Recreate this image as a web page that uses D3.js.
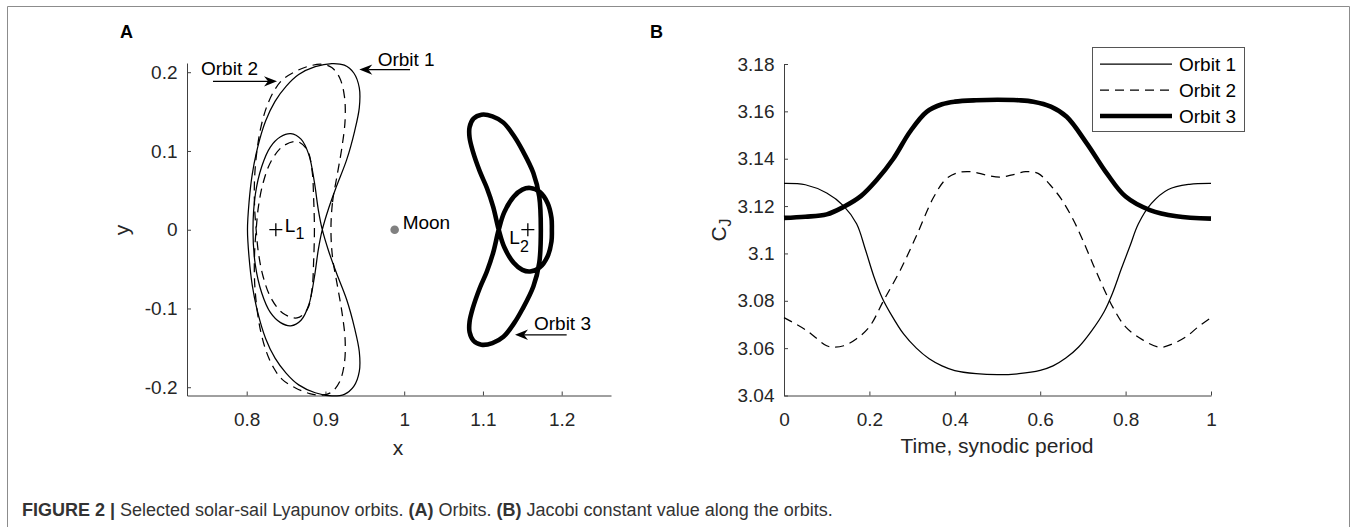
<!DOCTYPE html>
<html>
<head>
<meta charset="utf-8">
<script src="https://cdn.jsdelivr.net/npm/d3@7"></script>
<style>
  html, body { margin: 0; padding: 0; background: #fff; }
  svg text { font-family: 'Liberation Sans', Arial, Helvetica, sans-serif; }
</style>
</head>
<body>
<svg id="fig" width="1357" height="527"></svg>
<script>
// ---------------- Panel A: orbits in the synodic frame ----------------
const orbit1X = [0.896,0.904,0.914,0.927,0.937,0.943,0.943,0.936,0.924,0.908,0.887,0.866,0.850,0.836,0.824,0.814,0.807,0.803,0.801,
                 0.803,0.807,0.814,0.824,0.836,0.850,0.866,0.887,0.908,0.924,0.936,0.943,0.943,0.937,0.927,0.914,0.904,
                 0.896,0.891,0.886,0.879,0.869,0.856,0.843,0.830,0.819,0.811,0.808,0.811,0.819,0.830,0.843,0.856,0.869,0.879,0.886,0.891];
const orbit1Y = [0.000,0.027,0.055,0.089,0.125,0.155,0.180,0.199,0.209,0.211,0.207,0.197,0.182,0.163,0.138,0.105,0.070,0.035,0.000,
                 -0.035,-0.070,-0.105,-0.138,-0.163,-0.182,-0.197,-0.207,-0.211,-0.209,-0.199,-0.180,-0.155,-0.125,-0.089,-0.055,-0.027,
                 0.000,0.025,0.060,0.095,0.115,0.122,0.118,0.105,0.080,0.045,0.000,-0.045,-0.080,-0.105,-0.118,-0.122,-0.115,-0.095,-0.060,-0.025];

const orbit2X = [0.907,0.909,0.915,0.921,0.925,0.924,0.918,0.908,0.896,0.880,0.862,0.845,0.834,0.825,0.818,0.813,0.810,0.810,0.812,
                 0.815,0.821,0.831,0.846,0.864,0.877,0.883,0.885,0.886,0.885,0.883,0.877,0.864,0.846,0.831,0.821,0.815,0.812,
                 0.810,0.810,0.813,0.818,0.825,0.834,0.845,0.862,0.880,0.896,0.908,0.918,0.924,0.925,0.921,0.915,0.909];
const orbit2Y = [0.000,0.035,0.070,0.105,0.140,0.170,0.193,0.206,0.210,0.208,0.201,0.190,0.175,0.155,0.130,0.100,0.065,0.030,0.000,
                 -0.030,-0.060,-0.087,-0.106,-0.112,-0.101,-0.075,-0.040,0.000,0.040,0.075,0.101,0.112,0.106,0.087,0.060,0.030,0.000,
                 -0.030,-0.065,-0.100,-0.130,-0.155,-0.175,-0.190,-0.201,-0.208,-0.210,-0.206,-0.193,-0.170,-0.140,-0.105,-0.070,-0.035];

const orbit3X = [1.098,1.088,1.083,1.083,1.087,1.096,1.105,1.113,1.120,1.127,1.139,1.150,1.160,1.172,1.182,1.187,1.1875,
                 1.187,1.182,1.172,1.160,1.150,1.139,1.127,1.120,1.113,1.105,1.096,1.087,1.083,1.083,1.088,1.098,
                 1.112,1.126,1.140,1.150,1.164,1.1715,1.1735,1.1715,1.164,1.150,1.140,1.126,1.112];
const orbit3Y = [0.146,0.141,0.130,0.117,0.100,0.074,0.053,0.029,0.000,-0.022,-0.042,-0.051,-0.053,-0.048,-0.034,-0.015,0.000,
                 0.015,0.034,0.048,0.053,0.051,0.042,0.022,0.000,-0.029,-0.053,-0.074,-0.100,-0.117,-0.130,-0.141,-0.146,
                 -0.144,-0.136,-0.118,-0.101,-0.072,-0.042,0.000,0.042,0.072,0.101,0.118,0.136,0.144];

const moonX = 0.9879;
const libration = [{name: "L", sub: "1", x: 0.837}, {name: "L", sub: "2", x: 1.157}];

const aTicksX = [0.8, 0.9, 1, 1.1, 1.2];
const aTickLabelsX = ["0.8", "0.9", "1", "1.1", "1.2"];
const aTicksY = [-0.2, -0.1, 0, 0.1, 0.2];
const aTickLabelsY = ["-0.2", "-0.1", "0", "0.1", "0.2"];

// ---------------- Panel B: Jacobi constant over one synodic period ----------------
const orbit1Time = [0,0.05,0.10,0.14,0.17,0.19,0.21,0.23,0.25,0.28,0.31,0.34,0.37,0.40,0.45,0.50,
                    0.55,0.60,0.63,0.66,0.69,0.72,0.75,0.77,0.79,0.81,0.83,0.86,0.90,0.95,1.00];
const orbit1Jacobi = [3.1296,3.1290,3.1255,3.1200,3.1125,3.1020,3.0905,3.0812,3.0745,3.0660,3.0600,3.0555,3.0525,3.0505,3.0492,3.0488,
                      3.0492,3.0506,3.0525,3.0558,3.0605,3.0672,3.0755,3.0835,3.0935,3.1030,3.1125,3.1210,3.1270,3.1292,3.1296];

const orbit2Time = [0,0.05,0.10,0.1155,0.14,0.17,0.20,0.233,0.272,0.311,0.35,0.38,0.41,0.44,0.475,0.506,
                    0.535,0.566,0.595,0.623,0.65,0.678,0.70,0.732,0.771,0.80,0.84,0.8806,0.91,0.943,0.97,1.0];
const orbit2Jacobi = [3.0729,3.0678,3.0610,3.0604,3.0610,3.0640,3.0690,3.0800,3.0928,3.1078,3.1236,3.1315,3.1342,3.1345,3.1330,3.1322,
                      3.1332,3.1345,3.1338,3.1290,3.1228,3.1140,3.1055,3.0920,3.0770,3.0690,3.0635,3.0604,3.0618,3.0650,3.0690,3.0729];

const orbit3Time = [0,0.05,0.10,0.14,0.18,0.217,0.256,0.295,0.334,0.37,0.40,0.45,0.50,0.55,0.584,0.625,
                    0.662,0.709,0.756,0.80,0.857,0.919,1.0];
const orbit3Jacobi = [3.1150,3.1155,3.1165,3.1197,3.1242,3.1310,3.1400,3.1514,3.1598,3.1630,3.1641,3.1647,3.1649,3.1647,3.1641,3.1620,
                      3.1577,3.1465,3.1338,3.1240,3.1183,3.1157,3.1147];

const bTicksX = [0, 0.2, 0.4, 0.6, 0.8, 1];
const bTickLabelsX = ["0", "0.2", "0.4", "0.6", "0.8", "1"];
const bTicksY = [3.04, 3.06, 3.08, 3.1, 3.12, 3.14, 3.16, 3.18];
const bTickLabelsY = ["3.04", "3.06", "3.08", "3.1", "3.12", "3.14", "3.16", "3.18"];

const seriesNames = ["Orbit 1", "Orbit 2", "Orbit 3"];

// ---------------- drawing ----------------
const FONT = "'Liberation Sans', Arial, Helvetica, sans-serif";
const INK = "#000";
const AXIS = "#404040";
const TEXT_SIZE = 19;   // tick labels and in-plot text
const LABEL_SIZE = 21;  // axis titles
const svg = d3.select("#fig");

// styles per orbit: thin solid, thin dashed, thick solid
const styles = [
  {width: 1.25, dash: null},
  {width: 1.25, dash: "9,6"},
  {width: 4.6, dash: null}
];

// figure frame
svg.append("path")
  .attr("d", "M7.5,527V6.5H1349.5V527")
  .attr("fill", "none").attr("stroke", "#8c8c8c").attr("stroke-width", 1);

function drawAxes(xs, ys, xt, xl, yt, yl) {
  const gx = svg.append("g")
    .attr("transform", `translate(0,${ys.range()[0]})`)
    .call(d3.axisBottom(xs).tickValues(xt).tickFormat((d, i) => xl[i])
      .tickSizeInner(-4).tickSizeOuter(0).tickPadding(17));
  const gy = svg.append("g")
    .attr("transform", `translate(${xs.range()[0]},0)`)
    .call(d3.axisLeft(ys).tickValues(yt).tickFormat((d, i) => yl[i])
      .tickSizeInner(-4).tickSizeOuter(0).tickPadding(9.5));
  [gx, gy].forEach(g => g.attr("font-size", TEXT_SIZE).attr("font-family", FONT).attr("color", AXIS)
    .selectAll("text").attr("fill", "#262626"));
}

// ----- Panel A -----
const xA = d3.scaleLinear().domain([0.7242, 1.2626]).range([187, 611]);
const yA = d3.scaleLinear().domain([-0.2105, 0.2117]).range([395.5, 63]);
drawAxes(xA, yA, aTicksX, aTickLabelsX, aTicksY, aTickLabelsY);

const orbitLine = d3.line().x(d => xA(d[0])).y(d => yA(d[1]))
  .curve(d3.curveCatmullRomClosed.alpha(0.5));
[[orbit1X, orbit1Y], [orbit2X, orbit2Y], [orbit3X, orbit3Y]].forEach(([xs, ys], i) => {
  const pts = xs.map((x, k) => [x, ys[k]]);
  svg.append("path").attr("d", orbitLine(pts))
    .attr("fill", "none").attr("stroke", INK)
    .attr("stroke-width", styles[i].width)
    .attr("stroke-dasharray", styles[i].dash)
    .attr("stroke-linejoin", "round");
});

// Moon
svg.append("circle").attr("cx", xA(moonX)).attr("cy", yA(0)).attr("r", 4.3).attr("fill", "#808080");
svg.append("text").attr("x", xA(moonX) + 8).attr("y", yA(0) - 1)
  .attr("font-size", TEXT_SIZE).attr("fill", INK).text("Moon");

// libration points
const lOffsets = [{lx: 9, ly: 2.5, sdy: 6.6}, {lx: -18.5, ly: 14.5, sdy: 8}];
libration.forEach((p, i) => {
  const cx = xA(p.x), cy = yA(0);
  svg.append("path").attr("d", `M${cx - 6.5},${cy}H${cx + 6.5}M${cx},${cy - 6.5}V${cy + 6.5}`)
    .attr("stroke", INK).attr("stroke-width", 1.3);
  const t = svg.append("text").attr("x", cx + lOffsets[i].lx).attr("y", cy + lOffsets[i].ly)
    .attr("font-size", TEXT_SIZE).attr("fill", INK).text(p.name);
  t.append("tspan").attr("dy", lOffsets[i].sdy).attr("font-size", 16).text(p.sub);
});

// annotation arrows (positions in panel-A data units)
const notes = [
  {label: "Orbit 1", tail: [1.0074, 0.2033], tip: [0.943, 0.2033], text: [0.9663, 0.2084]},
  {label: "Orbit 2", tail: [0.7572, 0.1884], tip: [0.8385, 0.1884], text: [0.742, 0.197]},
  {label: "Orbit 3", tail: [1.2063, -0.1334], tip: [1.1407, -0.1334], text: [1.1648, -0.127]}
];
notes.forEach(n => {
  const x1 = xA(n.tail[0]), y1 = yA(n.tail[1]), x2 = xA(n.tip[0]), y2 = yA(n.tip[1]);
  const ang = Math.atan2(y2 - y1, x2 - x1);
  const L = 13, W = 5.2, notch = 9;
  const ux = Math.cos(ang), uy = Math.sin(ang);
  const px = -uy, py = ux;
  svg.append("line").attr("x1", x1).attr("y1", y1)
    .attr("x2", x2 - ux * notch).attr("y2", y2 - uy * notch)
    .attr("stroke", INK).attr("stroke-width", 1.2);
  const head = [
    [x2, y2],
    [x2 - ux * L + px * W, y2 - uy * L + py * W],
    [x2 - ux * notch, y2 - uy * notch],
    [x2 - ux * L - px * W, y2 - uy * L - py * W]
  ];
  svg.append("path").attr("d", "M" + head.map(p => p.join(",")).join("L") + "Z").attr("fill", INK);
  svg.append("text").attr("x", xA(n.text[0])).attr("y", yA(n.text[1]))
    .attr("font-size", TEXT_SIZE).attr("fill", INK).text(n.label);
});

// axis titles A
svg.append("text").attr("x", 398).attr("y", 455).attr("text-anchor", "middle")
  .attr("font-size", LABEL_SIZE).attr("fill", "#262626").text("x");
svg.append("text").attr("transform", "translate(129,230) rotate(-90)").attr("text-anchor", "middle")
  .attr("font-size", LABEL_SIZE).attr("fill", "#262626").text("y");

// ----- Panel B -----
const xB = d3.scaleLinear().domain([0, 1]).range([784, 1211]);
const yB = d3.scaleLinear().domain([3.04, 3.18]).range([395.5, 64]);
drawAxes(xB, yB, bTicksX, bTickLabelsX, bTicksY, bTickLabelsY);

const jacobiLine = d3.line().x(d => xB(d[0])).y(d => yB(d[1])).curve(d3.curveCatmullRom.alpha(0.5));
[[orbit1Time, orbit1Jacobi], [orbit2Time, orbit2Jacobi], [orbit3Time, orbit3Jacobi]].forEach(([ts, cs], i) => {
  const pts = ts.map((t, k) => [t, cs[k]]);
  svg.append("path").attr("d", jacobiLine(pts))
    .attr("fill", "none").attr("stroke", INK)
    .attr("stroke-width", styles[i].width)
    .attr("stroke-dasharray", styles[i].dash)
    .attr("stroke-linejoin", "round");
});

// legend
const lg = svg.append("g").attr("transform", "translate(1092,47)");
lg.append("rect").attr("x", 0.5).attr("y", 0.5).attr("width", 152).attr("height", 84)
  .attr("fill", "#fff").attr("stroke", "#555").attr("stroke-width", 1);
seriesNames.forEach((name, i) => {
  const yy = 17 + i * 26;
  lg.append("line").attr("x1", 8).attr("x2", 80).attr("y1", yy).attr("y2", yy)
    .attr("stroke", INK).attr("stroke-width", styles[i].width).attr("stroke-dasharray", styles[i].dash);
  lg.append("text").attr("x", 87).attr("y", yy).attr("dy", "0.35em")
    .attr("font-size", TEXT_SIZE).attr("fill", INK).text(name);
});

// axis titles B
svg.append("text").attr("x", 997).attr("y", 453).attr("text-anchor", "middle")
  .attr("font-size", LABEL_SIZE).attr("fill", "#262626").text("Time, synodic period");
const cj = svg.append("text").attr("transform", "translate(726,230) rotate(-90)").attr("text-anchor", "middle")
  .attr("font-size", LABEL_SIZE).attr("fill", "#262626").text("C");
cj.append("tspan").attr("dy", 5).attr("font-size", 16).text("J");

// panel letters
svg.append("text").attr("x", 120).attr("y", 38).attr("font-size", 18).attr("font-weight", "bold").attr("fill", INK).text("A");
svg.append("text").attr("x", 650).attr("y", 38).attr("font-size", 18).attr("font-weight", "bold").attr("fill", INK).text("B");

// caption
const cap = svg.append("text").attr("x", 22).attr("y", 516).attr("font-size", 18).attr("fill", "#333");
cap.append("tspan").attr("font-weight", "bold").text("FIGURE 2 | ");
cap.append("tspan").text("Selected solar-sail Lyapunov orbits. ");
cap.append("tspan").attr("font-weight", "bold").text("(A)");
cap.append("tspan").text(" Orbits. ");
cap.append("tspan").attr("font-weight", "bold").text("(B)");
cap.append("tspan").text(" Jacobi constant value along the orbits.");
</script>
</body>
</html>
